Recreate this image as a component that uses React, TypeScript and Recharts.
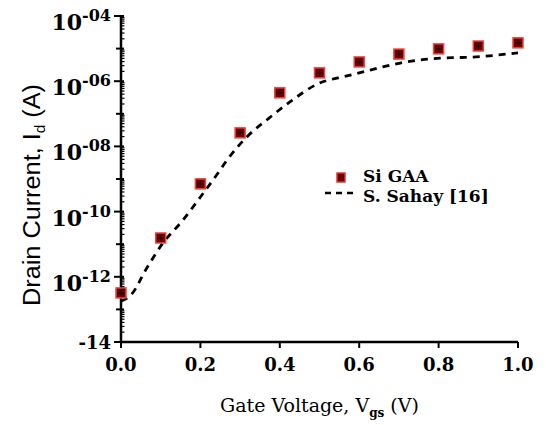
import React from 'react';
import { ComposedChart, Scatter, Line, XAxis, YAxis, Legend } from 'recharts';

// Si GAA transfer characteristic (gate voltage in V, drain current in A)
const gaaVoltage = [0, 0.1, 0.2, 0.3, 0.4, 0.5, 0.6, 0.7, 0.8, 0.9, 1.0];
const gaaCurrent = [3.2e-13, 1.55e-11, 7.1e-10, 2.6e-8, 4.4e-7, 1.8e-6, 3.9e-6, 6.8e-6, 9.8e-6, 1.2e-5, 1.5e-5];

// Reference curve, S. Sahay [16]
const sahayVoltage = [0, 0.025, 0.065, 0.106, 0.154, 0.2, 0.244, 0.267, 0.317, 0.373, 0.431, 0.494, 0.569, 0.6, 0.703, 0.804, 0.887, 1.0];
const sahayCurrent = [1.8e-13, 2.75e-13, 1.86e-12, 1.1e-11, 5.1e-11, 2.8e-10, 1.5e-9, 3.8e-9, 1.95e-8, 7.4e-8, 2.6e-7, 8.1e-7, 1.45e-6, 1.8e-6, 3.6e-6, 5.1e-6, 5.5e-6, 7.4e-6];

const xTicks = [0, 0.2, 0.4, 0.6, 0.8, 1.0];
const decadeExponents = [-14, -13, -12, -11, -10, -9, -8, -7, -6, -5, -4];
const minorMultipliers = [2, 3, 4, 5, 6, 7, 8, 9];

const gaaData = gaaVoltage.map((v, k) => ({ v, i: gaaCurrent[k] }));
const sahayData = sahayVoltage.map((v, k) => ({ v, i: sahayCurrent[k] }));

const yTicks: number[] = [];
decadeExponents.forEach((e) => {
  yTicks.push(Math.pow(10, e));
  if (e < -4) minorMultipliers.forEach((m) => yTicks.push(m * Math.pow(10, e)));
});

const SERIF = "'DejaVu Serif'";
const SANS = "'Liberation Sans'";

// Log-axis tick: labelled even decades, short odd decades, tiny inner minor ticks
const YTick = (props: any) => {
  const { x, y, payload } = props;
  const lg = Math.log10(payload.value);
  const exp = Math.round(lg);
  const isDecade = Math.abs(lg - exp) < 0.004;
  if (!isDecade) {
    return <line x1={x} x2={x + 3.5} y1={y} y2={y} stroke="#000" strokeWidth={1.2} />;
  }
  const even = exp % 2 === 0;
  const tickLen = even ? 7 : 5;
  let label: React.ReactNode = null;
  if (even) {
    if (exp === -14) {
      label = (
        <text x={x - 10} y={y + 7} textAnchor="end" style={{ fontFamily: SERIF, fontWeight: 'bold', fontSize: 18 }} fill="#000">
          -14
        </text>
      );
    } else {
      const sup = '-' + String(Math.abs(exp)).padStart(2, '0');
      label = (
        <text x={x - 10} y={y + 14} textAnchor="end" style={{ fontFamily: SERIF, fontWeight: 'bold' }} fill="#000">
          <tspan style={{ fontSize: 22 }}>10</tspan>
          <tspan style={{ fontSize: 16 }} dy={-9}>{sup}</tspan>
        </text>
      );
    }
  }
  return (
    <g>
      <line x1={x - tickLen} x2={x + 3} y1={y} y2={y} stroke="#000" strokeWidth={2} />
      {label}
    </g>
  );
};

const XTick = (props: any) => {
  const { x, y, payload } = props;
  return (
    <text x={x} y={y + 23} textAnchor="middle" style={{ fontFamily: SERIF, fontWeight: 'bold', fontSize: 18 }} fill="#000">
      {Number(payload.value).toFixed(1)}
    </text>
  );
};

const XTitle = (props: any) => {
  const { viewBox } = props;
  const cx = viewBox.x + viewBox.width / 2;
  const y = viewBox.y + 70;
  return (
    <text x={cx} y={y} textAnchor="middle" style={{ fontFamily: SERIF, fontSize: 19 }} fill="#000">
      <tspan>Gate Voltage, V</tspan>
      <tspan style={{ fontSize: 12, fontWeight: 'bold' }} dy={5}>gs</tspan>
      <tspan dy={-5}> (V)</tspan>
    </text>
  );
};

const YTitle = (props: any) => {
  const { viewBox } = props;
  const cy = viewBox.y + viewBox.height / 2 + 16;
  const x = 40;
  return (
    <text
      x={x}
      y={cy}
      transform={`rotate(-90 ${x} ${cy})`}
      textAnchor="middle"
      style={{ fontFamily: SANS, fontSize: 23 }}
      textLength={222}
      lengthAdjust="spacingAndGlyphs"
      fill="#000"
    >
      <tspan>Drain Current, I</tspan>
      <tspan style={{ fontSize: 14 }} dy={5}>d</tspan>
      <tspan dy={-5}> (A)</tspan>
    </text>
  );
};

const GaaMarker = (props: any) => {
  const { cx, cy } = props;
  if (cx == null || cy == null) return null;
  return (
    <g>
      <rect x={cx - 5} y={cy - 5} width={10} height={10} fill="#6e0000" stroke="#e8453c" strokeWidth={1.5} />
      <line x1={cx - 3} x2={cx + 3} y1={cy} y2={cy} stroke="#1a0000" strokeWidth={1} />
      <line x1={cx} x2={cx} y1={cy - 3} y2={cy + 3} stroke="#1a0000" strokeWidth={1} />
    </g>
  );
};

const LegendBox = () => (
  <svg width={210} height={48} style={{ display: 'block' }}>
    <rect x={15} y={9} width={8} height={9} fill="#6e0000" stroke="#d83a30" strokeWidth={1.5} />
    <text x={41} y={18} style={{ fontFamily: SERIF, fontWeight: 'bold', fontSize: 17 }} fill="#000">Si GAA</text>
    <line x1={3} x2={31} y1={29} y2={29} stroke="#000" strokeWidth={2.5} strokeDasharray="6 5" />
    <text x={41} y={38} style={{ fontFamily: SERIF, fontWeight: 'bold', fontSize: 17 }} fill="#000">S. Sahay [16]</text>
  </svg>
);

export default function App() {
  return (
    <div style={{ position: 'absolute', left: 0, top: 0, width: 546, height: 425, background: '#fff' }}>
      <ComposedChart width={546} height={425} margin={{ top: 16, right: 28, bottom: 23, left: 0 }}>
        <XAxis
          xAxisId="main"
          type="number"
          dataKey="v"
          domain={[0, 1]}
          ticks={xTicks}
          interval={0}
          tick={<XTick />}
          tickSize={6}
          tickMargin={0}
          axisLine={{ stroke: '#000', strokeWidth: 2.5 }}
          tickLine={{ stroke: '#000', strokeWidth: 2 }}
          height={60}
          label={<XTitle />}
        />
        <XAxis xAxisId="top" orientation="top" type="number" domain={[0, 1]} height={0} tick={false} tickLine={false} axisLine={{ stroke: '#000', strokeWidth: 2 }} />
        <YAxis
          yAxisId="main"
          type="number"
          dataKey="i"
          scale="log"
          domain={[1e-14, 1e-4]}
          allowDataOverflow
          ticks={yTicks}
          interval={0}
          tick={<YTick />}
          tickSize={0}
          tickMargin={0}
          tickLine={false}
          axisLine={{ stroke: '#000', strokeWidth: 2.5 }}
          width={121}
          label={<YTitle />}
        />
        <YAxis yAxisId="right" orientation="right" type="number" domain={[0, 1]} width={0} tick={false} tickLine={false} axisLine={{ stroke: '#000', strokeWidth: 2 }} />
        <Line
          xAxisId="main"
          yAxisId="main"
          data={sahayData}
          dataKey="i"
          type="monotone"
          stroke="#000"
          strokeWidth={2.8}
          strokeDasharray="7 6"
          dot={false}
          activeDot={false}
          isAnimationActive={false}
          name="S. Sahay [16]"
        />
        <Scatter
          xAxisId="main"
          yAxisId="main"
          data={gaaData}
          dataKey="i"
          shape={<GaaMarker />}
          isAnimationActive={false}
          name="Si GAA"
        />
        <Legend
          layout="horizontal"
          verticalAlign="middle"
          align="center"
          content={() => <LegendBox />}
          wrapperStyle={{ position: 'absolute', left: 322, top: 164, width: 210, height: 48 }}
        />
      </ComposedChart>
    </div>
  );
}
